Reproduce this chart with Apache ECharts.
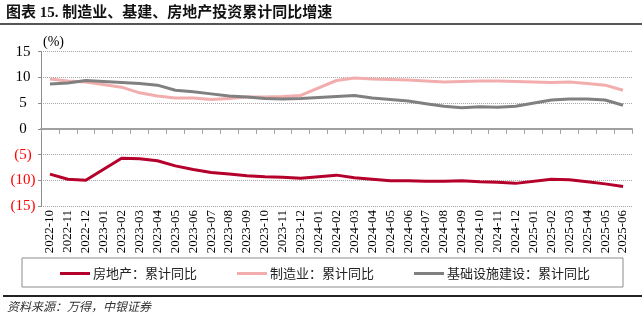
<!DOCTYPE html>
<html>
<head>
<meta charset="utf-8">
<script src="https://cdn.jsdelivr.net/npm/echarts@6/dist/echarts.min.js"></script>
<style>
html,body{margin:0;padding:0;background:#fff;}
#c{width:642px;height:330px;}
</style>
</head>
<body>
<div id="c"></div>
<script>
var categories = ['2022-10','2022-11','2022-12',
  '2023-01','2023-02','2023-03','2023-04','2023-05','2023-06','2023-07','2023-08','2023-09','2023-10','2023-11','2023-12',
  '2024-01','2024-02','2024-03','2024-04','2024-05','2024-06','2024-07','2024-08','2024-09','2024-10','2024-11','2024-12',
  '2025-01','2025-02','2025-03','2025-04','2025-05','2025-06'];
var realEstate = [-8.8,-9.8,-10.0,
  null,-5.7,-5.8,-6.2,-7.2,-7.9,-8.5,-8.8,-9.1,-9.3,-9.4,-9.6,
  null,-9.0,-9.5,-9.8,-10.1,-10.1,-10.2,-10.2,-10.1,-10.3,-10.4,-10.6,
  null,-9.8,-9.9,-10.3,-10.7,-11.2];
var manufacturing = [9.7,9.3,9.1,
  null,8.1,7.0,6.4,6.0,6.0,5.7,5.9,6.2,6.2,6.3,6.5,
  null,9.4,9.9,9.7,9.6,9.5,9.3,9.1,9.2,9.3,9.3,9.2,
  null,9.0,9.1,8.8,8.5,7.5];
var infrastructure = [8.7,8.9,9.4,
  null,9.0,8.8,8.5,7.5,7.2,6.8,6.4,6.2,5.9,5.8,5.9,
  null,6.3,6.5,6.0,5.7,5.4,4.9,4.4,4.1,4.3,4.2,4.4,
  null,5.6,5.8,5.8,5.6,4.6];
var seriesNames = ['房地产：累计同比','制造业：累计同比','基础设施建设：累计同比'];
var yTicks = {min:-15, max:15, interval:5};

var serif = '"Liberation Serif","Times New Roman",serif';
var cjk = '"Liberation Serif","Noto Sans CJK SC",serif';

var chart = echarts.init(document.getElementById('c'));
chart.setOption({
  animation:false,
  backgroundColor:'#fff',
  grid:{left:41, right:10, top:51.7, bottom:124, containLabel:false},
  legend:{
    left:55, top:262,
    itemGap:40, itemWidth:30, itemHeight:3,
    icon:'rect',
    textStyle:{fontFamily:'"Noto Sans CJK SC",sans-serif', fontSize:13, color:'#222', padding:[0,0,0,-2]},
    data:seriesNames
  },
  xAxis:[{
    type:'category', data:categories, boundaryGap:true, position:'bottom',
    axisLine:{onZero:true, lineStyle:{color:'#a0a0a0', width:2}},
    axisTick:{show:true, interval:0, length:5, lineStyle:{color:'#a0a0a0', width:1}},
    axisLabel:{show:false},
    splitLine:{show:false}
  },{
    type:'category', data:categories, boundaryGap:true, position:'bottom',
    axisLine:{show:false, onZero:false},
    axisTick:{show:false},
    axisLabel:{show:true, interval:0, rotate:90, margin:4, fontFamily:serif, fontSize:13, color:'#000'},
    splitLine:{show:false}
  }],
  yAxis:{
    type:'value', min:yTicks.min, max:yTicks.max, interval:yTicks.interval,
    axisLine:{show:true, lineStyle:{color:'#8c8c8c', width:1}},
    axisTick:{show:true, length:3, lineStyle:{color:'#8c8c8c'}},
    splitLine:{show:true, lineStyle:{color:'#a6a6a6', type:[1,1], width:1}},
    axisLabel:{
      margin:18, align:'center',
      formatter:function(v){ return v<0 ? '{neg|(' + (-v) + ')}' : '{pos|' + v + '}'; },
      rich:{
        neg:{color:'#ff0000', fontFamily:serif, fontSize:15},
        pos:{color:'#000', fontFamily:serif, fontSize:15}
      }
    }
  },
  series:[
    {name:seriesNames[0], type:'line', data:realEstate, connectNulls:true, showSymbol:false, symbol:'none',
     lineStyle:{color:'#B5002B', width:3}, itemStyle:{color:'#B5002B'}},
    {name:seriesNames[1], type:'line', data:manufacturing, connectNulls:true, showSymbol:false, symbol:'none',
     lineStyle:{color:'#F2AEAE', width:3}, itemStyle:{color:'#F2AEAE'}},
    {name:seriesNames[2], type:'line', data:infrastructure, connectNulls:true, showSymbol:false, symbol:'none',
     lineStyle:{color:'#808080', width:3}, itemStyle:{color:'#808080'}}
  ],
  graphic:[
    {type:'text', left:6, top:6, style:{text:'图表 15. 制造业、基建、房地产投资累计同比增速', font:'bold 15px ' + cjk, fill:'#111'}},
    {type:'rect', shape:{x:0, y:23, width:642, height:2}, style:{fill:'#555'}},
    {type:'text', left:43, top:35, style:{text:'(%)', font:'14px ' + serif, fill:'#000'}},
    {type:'rect', shape:{x:22, y:258, width:601, height:29}, style:{fill:'none', stroke:'#8c8c8c', lineWidth:1}},
    {type:'rect', shape:{x:3, y:295, width:639, height:2}, style:{fill:'#222'}},
    {type:'text', left:7, top:300, style:{text:'资料来源：万得，中银证券', font:'italic 12px "Noto Sans CJK SC",sans-serif', fill:'#333'}}
  ]
});
</script>
</body>
</html>
